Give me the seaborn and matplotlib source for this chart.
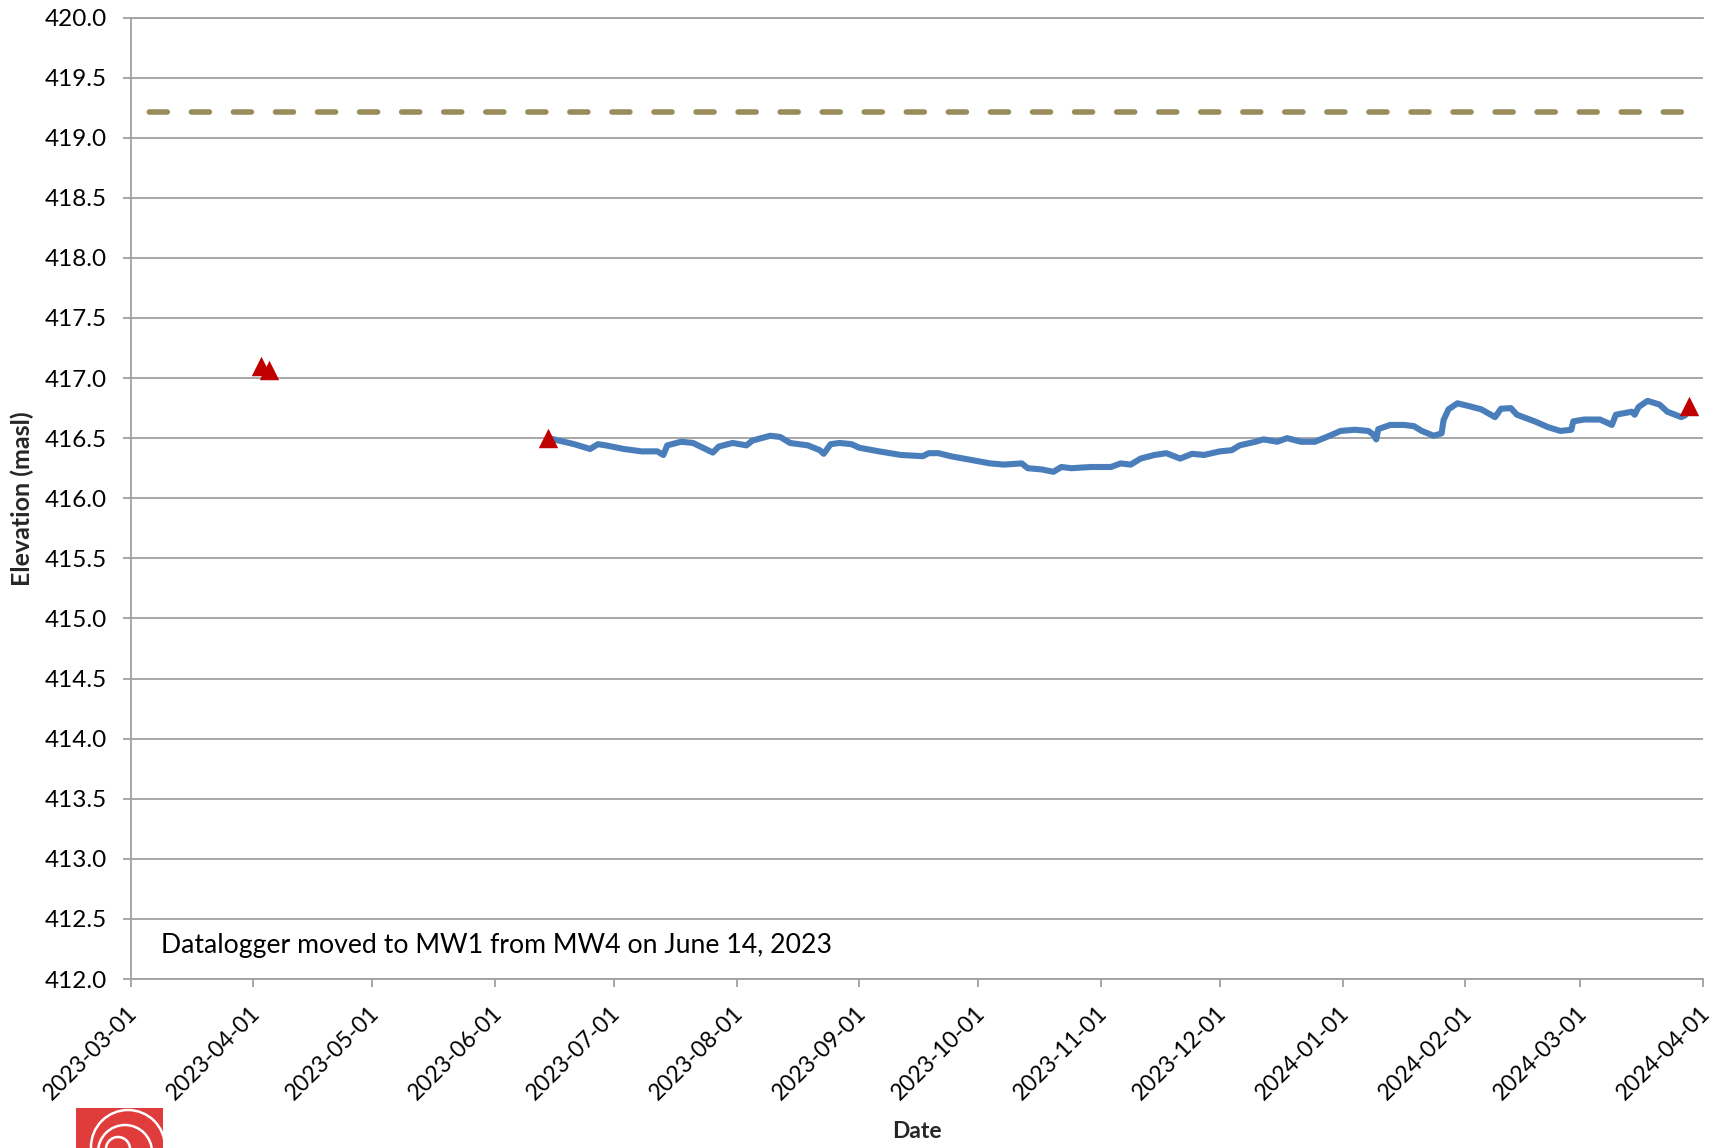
import numpy as np
import pandas as pd
import matplotlib
matplotlib.use("Agg")
import matplotlib.pyplot as plt
from matplotlib.patches import Rectangle, Circle
from matplotlib.transforms import ScaledTranslation
import seaborn as sns

# Datalogger record at MW1 (metres above sea level)
logger_times = [
    "2023-06-14 12:00", "2023-06-21", "2023-06-25", "2023-06-27", "2023-06-29",
    "2023-07-03 12:00", "2023-07-08", "2023-07-12", "2023-07-13 12:00", "2023-07-14 12:00",
    "2023-07-18", "2023-07-21", "2023-07-26", "2023-07-27 12:00", "2023-07-31",
    "2023-08-03 12:00", "2023-08-05", "2023-08-09 12:00", "2023-08-12", "2023-08-14 12:00",
    "2023-08-19", "2023-08-22", "2023-08-23", "2023-08-24 18:00", "2023-08-27",
    "2023-08-30", "2023-09-01", "2023-09-06", "2023-09-11 12:00", "2023-09-17",
    "2023-09-18 12:00", "2023-09-21", "2023-09-24", "2023-09-29", "2023-10-04",
    "2023-10-07 12:00", "2023-10-12", "2023-10-13 12:00", "2023-10-17", "2023-10-20",
    "2023-10-22", "2023-10-24 12:00", "2023-10-29 12:00", "2023-11-03 12:00", "2023-11-06",
    "2023-11-08 12:00", "2023-11-11", "2023-11-14 12:00", "2023-11-17 12:00", "2023-11-21",
    "2023-11-24", "2023-11-27", "2023-12-01", "2023-12-04", "2023-12-06",
    "2023-12-10", "2023-12-12", "2023-12-15 12:00", "2023-12-18", "2023-12-21 12:00",
    "2023-12-25", "2023-12-28", "2023-12-31 12:00", "2024-01-04", "2024-01-07 12:00",
    "2024-01-08 18:00", "2024-01-09 12:00", "2024-01-10", "2024-01-13", "2024-01-16 12:00",
    "2024-01-19", "2024-01-21", "2024-01-24", "2024-01-26", "2024-01-26 12:00",
    "2024-01-27 18:00", "2024-01-30", "2024-02-01 12:00", "2024-02-05", "2024-02-08 12:00",
    "2024-02-10", "2024-02-12 12:00", "2024-02-14", "2024-02-18 12:00", "2024-02-22",
    "2024-02-25", "2024-02-27 18:00", "2024-02-28 06:00", "2024-03-02", "2024-03-06",
    "2024-03-09", "2024-03-10", "2024-03-14", "2024-03-14 18:00", "2024-03-15 18:00",
    "2024-03-18", "2024-03-21", "2024-03-23", "2024-03-26 12:00", "2024-03-27 12:00",
]
logger_elev = [
    416.50, 416.45, 416.41, 416.45, 416.44,
    416.41, 416.39, 416.39, 416.36, 416.44,
    416.47, 416.46, 416.38, 416.43, 416.46,
    416.44, 416.48, 416.52, 416.51, 416.46,
    416.44, 416.40, 416.37, 416.45, 416.46,
    416.45, 416.42, 416.39, 416.36, 416.35,
    416.375, 416.375, 416.35, 416.32, 416.29,
    416.28, 416.29, 416.25, 416.24, 416.22,
    416.26, 416.25, 416.26, 416.26, 416.29,
    416.28, 416.33, 416.36, 416.375, 416.33,
    416.37, 416.36, 416.39, 416.40, 416.44,
    416.47, 416.49, 416.47, 416.50, 416.47,
    416.47, 416.51, 416.56, 416.57, 416.56,
    416.53, 416.49, 416.575, 416.61, 416.61,
    416.60, 416.56, 416.52, 416.54, 416.65,
    416.74, 416.79, 416.77, 416.74, 416.675,
    416.745, 416.75, 416.695, 416.64, 416.59,
    416.56, 416.57, 416.64, 416.655, 416.655,
    416.61, 416.695, 416.72, 416.695, 416.76,
    416.81, 416.78, 416.72, 416.675, 416.69,
]

# Manual water level measurements (masl)
manual_times = ["2023-04-03", "2023-04-05", "2023-06-14 12:00", "2024-03-28 12:00"]
manual_elev = [417.10, 417.07, 416.50, 416.77]

# Ground surface elevation (masl)
ground_elev = 419.21

# Axis ticks
x_tick_labels = [
    "2023-03-01", "2023-04-01", "2023-05-01", "2023-06-01", "2023-07-01",
    "2023-08-01", "2023-09-01", "2023-10-01", "2023-11-01", "2023-12-01",
    "2024-01-01", "2024-02-01", "2024-03-01", "2024-04-01",
]
y_tick_values = [412.0, 412.5, 413.0, 413.5, 414.0, 414.5, 415.0, 415.5,
                 416.0, 416.5, 417.0, 417.5, 418.0, 418.5, 419.0, 419.5, 420.0]

note_text = "Datalogger moved to MW1 from MW4 on June 14, 2023"

sns.set_style("white")
plt.rcParams["font.family"] = ["Lato", "DejaVu Sans"]

W, H = 1721, 1148
AX_L, AX_R, AX_T, AX_B = 130.6, 1703.0, 17.5, 979.0
fig = plt.figure(figsize=(W / 100, H / 100), dpi=100)
ax = fig.add_axes([AX_L / W, 1 - AX_B / H, (AX_R - AX_L) / W, (AX_B - AX_T) / H])

logger = pd.DataFrame({"time": pd.to_datetime(logger_times, format="ISO8601"),
                       "elev": logger_elev})
manual = pd.DataFrame({"time": pd.to_datetime(manual_times, format="ISO8601"),
                       "elev": manual_elev})

grid_grey = "#A0A0A0"

ax.axhline(ground_elev, color="#988D5A", lw=4.0,
           linestyle=(4.27, (3.24, 4.33)), dash_capstyle="round", zorder=2)

sns.lineplot(data=logger, x="time", y="elev", ax=ax, color="#4A7EBB", lw=4.4,
             solid_joinstyle="round", solid_capstyle="round", zorder=3)
sns.scatterplot(data=manual, x="time", y="elev", ax=ax, marker="^", s=196,
                color="#C00000", edgecolor="#C00000", linewidth=0, zorder=4)

ax.set_xlim(pd.Timestamp(x_tick_labels[0]), pd.Timestamp(x_tick_labels[-1]))
ax.set_ylim(y_tick_values[0], y_tick_values[-1])
ax.set_yticks(y_tick_values)
ax.set_yticklabels([f"{v:.1f}" for v in y_tick_values])
ax.set_xticks(pd.to_datetime(x_tick_labels))
ax.set_xticklabels(x_tick_labels, rotation=45, ha="right", va="top",
                   rotation_mode="anchor")

ax.yaxis.grid(True, color=grid_grey, lw=1.3)
ax.xaxis.grid(False)
for side in ["left", "bottom", "top"]:
    ax.spines[side].set_color(grid_grey)
    ax.spines[side].set_linewidth(1.3)
ax.spines["right"].set_visible(False)

ax.tick_params(axis="y", direction="out", length=5.8, width=1.3, color=grid_grey,
               labelsize=17.5, labelcolor="black", pad=11.5, left=True)
ax.tick_params(axis="x", direction="out", length=5.8, width=1.3, color=grid_grey,
               labelsize=16.5, labelcolor="black", pad=11.0, bottom=True)
shift = ScaledTranslation(-4.0 / 100, 0, fig.dpi_scale_trans)
for lab in ax.get_xticklabels():
    lab.set_transform(lab.get_transform() + shift)

ax.set_xlabel("Date", fontsize=16.5, fontweight="bold")
ax.set_ylabel("Elevation (masl)", fontsize=18, fontweight="bold")
ax.xaxis.label.set_va("center")
ax.yaxis.label.set_va("center")
ax.xaxis.set_label_coords(0.5, -(1131 - AX_B) / (AX_B - AX_T))
ax.yaxis.set_label_coords(-(AX_L - 22) / (AX_R - AX_L), 0.5)

ax.text((161 - AX_L) / (AX_R - AX_L), (AX_B - 946) / (AX_B - AX_T), note_text,
        transform=ax.transAxes, fontsize=19.2, va="center", ha="left", color="black")

# Company logo in the lower-left corner
logo = fig.add_axes([76 / W, (H - 1108 - 87) / H, 87 / W, 87 / H])
logo.set_xlim(0, 87)
logo.set_ylim(87, 0)
logo.axis("off")
logo.add_patch(Rectangle((0, 0), 87, 87, color="#E03C3C"))
for cx, cy, r in [(52, 39, 37), (49, 44, 27), (42, 41, 12)]:
    logo.add_patch(Circle((cx, cy), r, fill=False, ec="white", lw=1.8))

fig.savefig("out.png", dpi=100)
